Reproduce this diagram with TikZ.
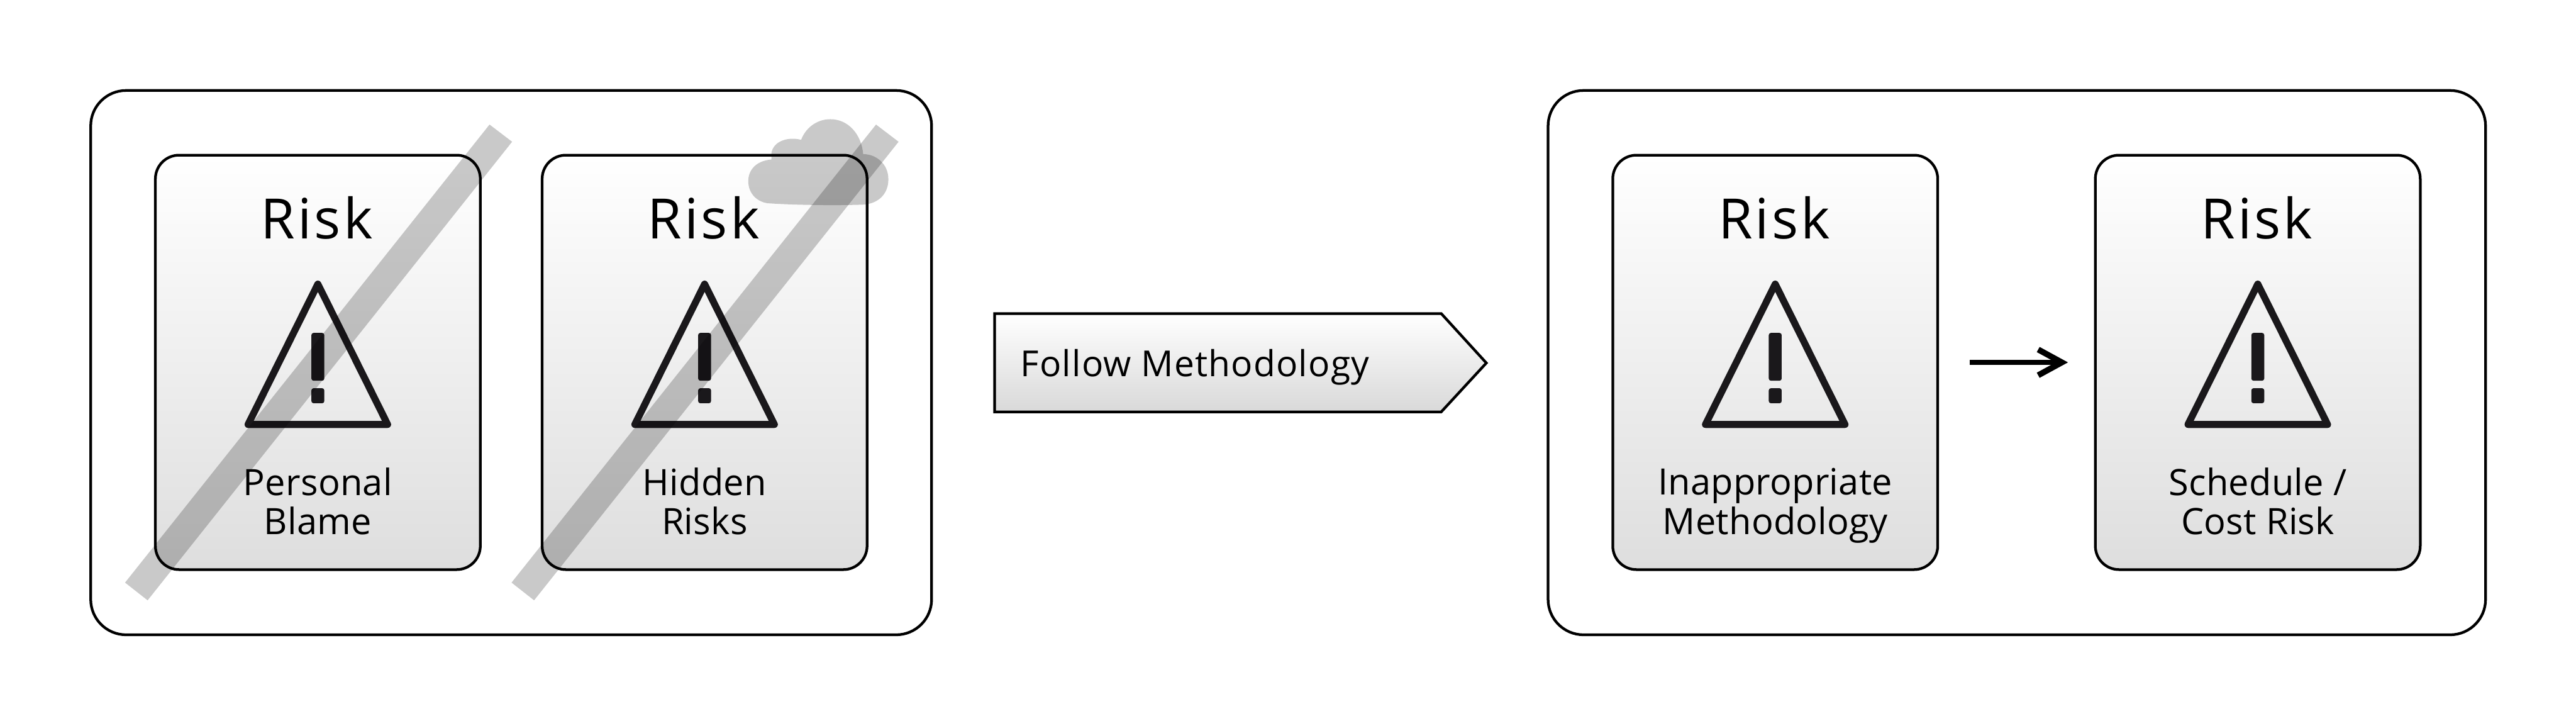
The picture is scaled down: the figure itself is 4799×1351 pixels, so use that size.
\documentclass[tikz,border=0pt]{standalone}
\usepackage{fontspec}
\usetikzlibrary{arrows.meta,calc}
\setmainfont{Open Sans}
\newfontfamily\titlefont{Open Sans}[LetterSpace=4.5]
\newfontfamily\labelfont{Open Sans}[LetterSpace=0.4]
\newfontfamily\flowfont{Open Sans}[LetterSpace=2]
\definecolor{ink}{HTML}{1A181B}
\tikzset{
  x=0.02cm,y=-0.02cm,
  outerbox/.style={draw=black,line width=5*0.569pt,rounded corners=66*0.569pt,fill=white,outer sep=0pt,inner sep=0pt,anchor=north west},
  card/.style={draw=black,line width=5*0.569pt,rounded corners=44*0.569pt,top color=white,bottom color=black!13,outer sep=0pt,inner sep=0pt,anchor=north west},
  risktitle/.style={anchor=base,font=\titlefont\fontsize{59pt}{60pt}\selectfont,inner sep=0pt,text=black},
  risklabel/.style={anchor=center,align=center,font=\labelfont\fontsize{38.5pt}{41.5pt}\selectfont,inner sep=0pt,text=black,execute at begin node=\strut,execute at end node=\strut},
  warnline/.style={draw=ink,line width=13*0.569pt,line join=round},
  warnbar/.style={fill=ink,rounded corners=4*0.569pt,draw=none},
  strike/.style={fill=black,fill opacity=0.21,draw=none},
  flowtip/.style={draw=black,line width=5*0.569pt,miter limit=10,top color=white,bottom color=black!15},
}
\newcommand{\riskcard}[3]{% name, left x, text
  \node[card,minimum width=605.5*0.569pt,minimum height=772*0.569pt] (#1) at (#2,289) {};
  \path (#1.north) ++(-2,156) node[risktitle] (#1t) {Risk};
  \path (#1.north) ++(0,240) coordinate (#1a) ++(-130,261.5) coordinate (#1b) ++(260,0) coordinate (#1c);
  \draw[warnline] (#1a) -- (#1b) -- (#1c) -- cycle;
  \path (#1.north) ++(0,331) coordinate (#1p);
  \fill[warnbar] ($(#1p)+(-12,0)$) rectangle ($(#1p)+(12,89)$);
  \fill[warnbar] ($(#1p)+(-12,103)$) rectangle ($(#1p)+(12,131)$);
  \path (#1.north) ++(0,655.5) node[risklabel] (#1l) {#3};
}
\begin{document}
\begin{tikzpicture}
\useasboundingbox (0,0) rectangle (4799,1351);
\node[outerbox,minimum width=1567*0.569pt,minimum height=1014*0.569pt] (leftgroup) at (169,168.5) {};
\node[outerbox,minimum width=1747*0.569pt,minimum height=1014*0.569pt] (rightgroup) at (2884,168.5) {};
\riskcard{c1}{289.5}{Personal\\Blame}
\riskcard{c2}{1010}{Hidden\\Risks}
\riskcard{c3}{3004.5}{Inappropriate\\Methodology}
\riskcard{c4}{3903.5}{Schedule /\\Cost Risk}
\draw[line width=10*0.569pt,-{Straight Barb[length=44*0.569pt,width=48*0.569pt,line width=11*0.569pt]},shorten <=60*0.569pt,shorten >=51*0.569pt] (c3) -- (c4);
\coordinate (fm) at (1853,584);
\draw[flowtip] (fm) -- (2685,584) -- (2769,676) -- (2685,767) -- (1853,767) -- cycle;
\node[anchor=base west,inner sep=0pt,font=\flowfont\fontsize{38pt}{41.4pt}\selectfont] (fmt) at (1901,701) {Follow Methodology};
% cloud
\fill[strike] (1437,297) .. controls (1405,300) and (1394,320) .. (1394,337)
 .. controls (1394,362) and (1412,376) .. (1430,378.5)
 .. controls (1480,382) and (1560,383) .. (1610,381)
 .. controls (1640,378) and (1655,358) .. (1655,334)
 .. controls (1655,305) and (1632,287) .. (1608,287)
 .. controls (1605,250) and (1580,222) .. (1547,222)
 .. controls (1520,222) and (1500,240) .. (1492.5,260.5)
 .. controls (1470,254) and (1440,262) .. (1437,286) -- cycle;
% strikes
\fill[strike] (912,232) -- (954,264) -- (275,1118) -- (233,1085) -- cycle;
\fill[strike] (1632,232) -- (1674,264) -- (995,1118) -- (953,1085) -- cycle;
\end{tikzpicture}
\end{document}
